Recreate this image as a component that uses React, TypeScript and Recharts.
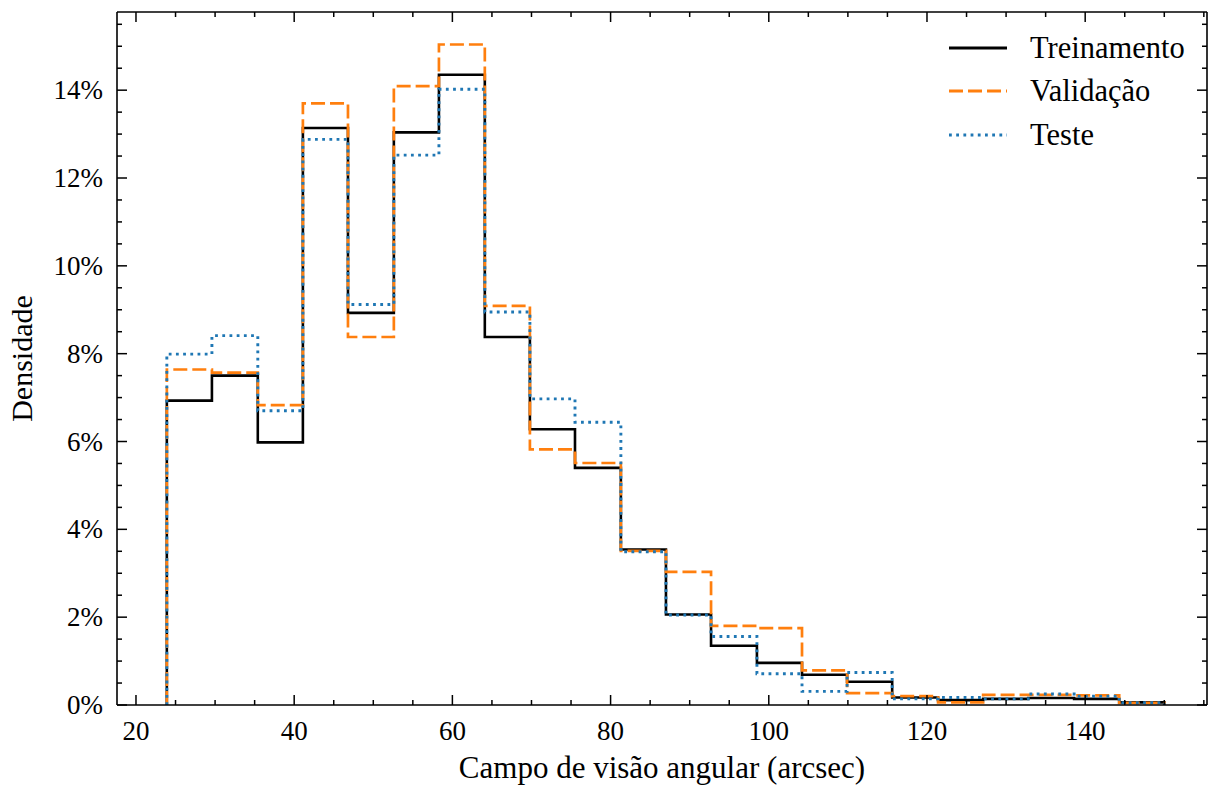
import React from 'react';
import { LineChart, Line, XAxis, YAxis, Legend, ReferenceLine } from 'recharts';

// bin edges (arcsec) and densities (%)
const binEdges = [23.9, 29.6, 35.4, 41.1, 46.8, 52.6, 58.3, 64.1, 69.8, 75.5, 81.3, 87.0, 92.7, 98.5, 104.2, 109.9, 115.6, 121.4, 127.1, 132.8, 138.6, 144.3, 150.0];
const trainValues = [6.93, 7.5, 5.98, 13.14, 8.93, 13.04, 14.35, 8.38, 6.28, 5.4, 3.54, 2.06, 1.35, 0.96, 0.69, 0.53, 0.17, 0.11, 0.14, 0.16, 0.14, 0.06];
const valValues = [7.64, 7.57, 6.83, 13.7, 8.38, 14.09, 15.04, 9.09, 5.82, 5.51, 3.51, 3.03, 1.8, 1.75, 0.79, 0.27, 0.2, 0.06, 0.23, 0.23, 0.22, 0.05];
const testValues = [7.99, 8.41, 6.7, 12.88, 9.12, 12.52, 14.02, 8.95, 6.97, 6.44, 3.49, 2.05, 1.56, 0.71, 0.31, 0.74, 0.14, 0.17, 0.14, 0.25, 0.2, 0.05];

const xTicks = [20, 25, 30, 35, 40, 45, 50, 55, 60, 65, 70, 75, 80, 85, 90, 95, 100, 105, 110, 115, 120, 125, 130, 135, 140, 145, 150, 155];
const yTicks = [0, 0.5, 1, 1.5, 2, 2.5, 3, 3.5, 4, 4.5, 5, 5.5, 6, 6.5, 7, 7.5, 8, 8.5, 9, 9.5, 10, 10.5, 11, 11.5, 12, 12.5, 13, 13.5, 14, 14.5, 15, 15.5];

const X_MIN = 17.6;
const X_MAX = 155.4;
const Y_MAX = 15.78;

const series = [
  { key: 'train', name: 'Treinamento', color: '#000000', width: 2.6, dash: undefined },
  { key: 'val', name: 'Validação', color: '#ff7f0e', width: 2.7, dash: '14 5' },
  { key: 'test', name: 'Teste', color: '#1f77b4', width: 2.9, dash: '2.8 4.4' },
];

// step outline: start at 0 on the first edge, close back to 0 on the last one
const last = trainValues.length - 1;
const rows = [
  { x: binEdges[0], train: 0, val: 0, test: 0 },
  ...trainValues.map((t, i) => ({ x: binEdges[i], train: t, val: valValues[i], test: testValues[i] })),
  { x: binEdges[last + 1], train: trainValues[last], val: valValues[last], test: testValues[last] },
  { x: binEdges[last + 1], train: 0, val: 0, test: 0 },
];

const W = 1208;
const H = 790;
const PLOT_LEFT = 117;
const PLOT_RIGHT = 1207;
const PLOT_TOP = 12;
const PLOT_BOTTOM = 705;
const MAJOR = 10;
const MINOR = 5;
const FONT = '"Liberation Serif", "Times New Roman", serif';

const XTick = (props: any) => {
  const { x, payload } = props;
  const v = payload.value;
  const major = v % 20 === 0;
  const len = major ? MAJOR : MINOR;
  return (
    <g>
      <line x1={x} x2={x} y1={PLOT_BOTTOM} y2={PLOT_BOTTOM - len} stroke="#000" strokeWidth={1.5} />
      <line x1={x} x2={x} y1={PLOT_TOP} y2={PLOT_TOP + len} stroke="#000" strokeWidth={1.5} />
      {major && (
        <text x={x} y={PLOT_BOTTOM + 34.5} textAnchor="middle" fontFamily={FONT} fontSize={27} fill="#000">
          {v}
        </text>
      )}
    </g>
  );
};

const YTick = (props: any) => {
  const { y, payload } = props;
  const v = payload.value;
  const major = v % 2 === 0;
  const len = major ? MAJOR : MINOR;
  return (
    <g>
      <line x1={PLOT_LEFT} x2={PLOT_LEFT + len} y1={y} y2={y} stroke="#000" strokeWidth={1.5} />
      <line x1={PLOT_RIGHT} x2={PLOT_RIGHT - len} y1={y} y2={y} stroke="#000" strokeWidth={1.5} />
      {major && (
        <text x={PLOT_LEFT - 14} y={y + 9} textAnchor="end" fontFamily={FONT} fontSize={27} fill="#000">
          {`${v}%`}
        </text>
      )}
    </g>
  );
};

const YLabel = (props: any) => {
  const vb = props.viewBox || {};
  const cy = (vb.y ?? PLOT_TOP) + (vb.height ?? PLOT_BOTTOM - PLOT_TOP) / 2;
  return (
    <text x={32} y={cy} transform={`rotate(-90, 32, ${cy})`} textAnchor="middle" fontFamily={FONT} fontSize={30} fill="#000">
      Densidade
    </text>
  );
};

const LegendContent = () => (
  <div style={{ fontFamily: FONT, fontSize: 30.5, color: '#000' }}>
    {series.map((s) => (
      <div key={s.key} style={{ display: 'flex', alignItems: 'center', height: 43.5 }}>
        <svg width={58} height={10} style={{ marginRight: 23 }}>
          <line x1={0} x2={58} y1={5} y2={5} stroke={s.color} strokeWidth={s.width + 0.3} strokeDasharray={s.dash} />
        </svg>
        <span style={{ lineHeight: '30px' }}>{s.name}</span>
      </div>
    ))}
  </div>
);

export default function App() {
  return (
    <div style={{ position: 'absolute', left: 0, top: 0, background: '#fff' }}>
      <LineChart width={W} height={H} data={rows} margin={{ top: PLOT_TOP, right: W - PLOT_RIGHT, bottom: 5, left: PLOT_LEFT - 100 }}>
        <XAxis
          dataKey="x"
          type="number"
          domain={[X_MIN, X_MAX]}
          allowDataOverflow
          ticks={xTicks}
          interval={0}
          tick={<XTick />}
          tickLine={false}
          tickSize={0}
          tickMargin={0}
          height={80}
          axisLine={{ stroke: '#000', strokeWidth: 1.6 }}
          label={{
            value: 'Campo de visão angular (arcsec)',
            position: 'insideBottom',
            offset: 7,
            style: { fontFamily: FONT, fontSize: 31, fill: '#000' },
          }}
        />
        <YAxis
          type="number"
          domain={[0, Y_MAX]}
          allowDataOverflow
          ticks={yTicks}
          interval={0}
          tick={<YTick />}
          tickLine={false}
          tickSize={0}
          tickMargin={0}
          width={100}
          axisLine={{ stroke: '#000', strokeWidth: 1.6 }}
          label={<YLabel />}
        />
        <ReferenceLine y={Y_MAX} stroke="#000" strokeWidth={1.6} />
        <ReferenceLine x={X_MAX} stroke="#000" strokeWidth={1.6} />
        {series.map((s) => (
          <Line
            key={s.key}
            dataKey={s.key}
            name={s.name}
            type="stepAfter"
            stroke={s.color}
            strokeWidth={s.width}
            strokeDasharray={s.dash}
            dot={false}
            activeDot={false}
            isAnimationActive={false}
          />
        ))}
        <Legend
          layout="vertical"
          align="center"
          verticalAlign="middle"
          content={<LegendContent />}
          wrapperStyle={{ position: 'absolute', left: 949, top: 26, width: 'auto', right: 'auto', bottom: 'auto' }}
        />
      </LineChart>
    </div>
  );
}
